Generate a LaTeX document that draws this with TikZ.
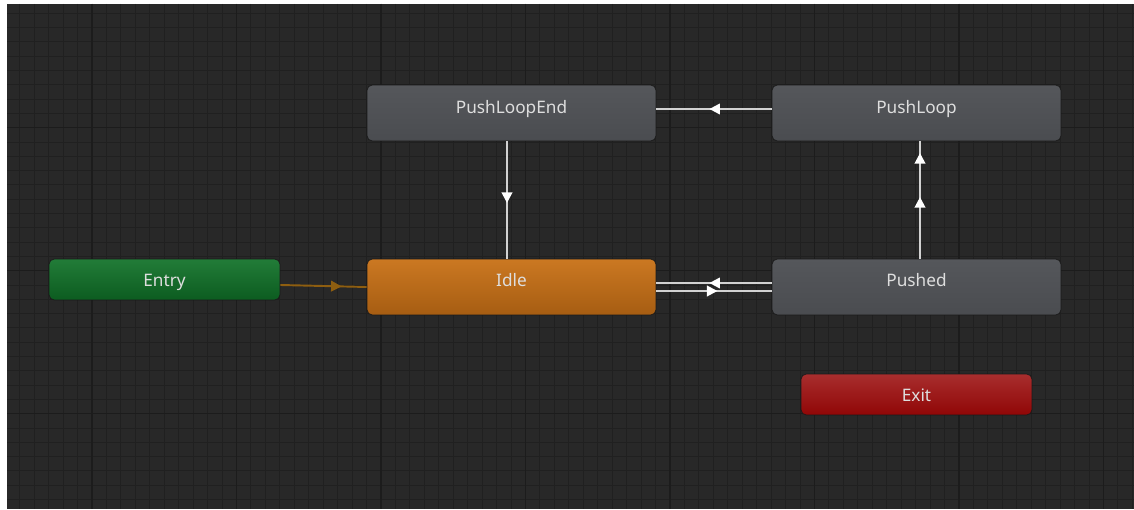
\documentclass[tikz,border=0pt]{standalone}
\usepackage{fontspec}
\setmainfont{Noto Sans}
\usetikzlibrary{arrows.meta,decorations.markings}
\definecolor{bgc}{HTML}{282828}
\definecolor{minorc}{HTML}{202020}
\definecolor{majorc}{HTML}{1C1C1C}
\definecolor{borderc}{HTML}{1A1A1A}
\definecolor{graytop}{HTML}{55575B}
\definecolor{graybot}{HTML}{4A4C50}
\definecolor{orangetop}{HTML}{CB7822}
\definecolor{orangebot}{HTML}{A65D12}
\definecolor{greentop}{HTML}{227C38}
\definecolor{greenbot}{HTML}{0C5C20}
\definecolor{redtop}{HTML}{A82E2E}
\definecolor{redbot}{HTML}{900606}
\definecolor{txtc}{HTML}{DEDEDE}
\definecolor{linec}{HTML}{D2D2D2}
\definecolor{entryline}{HTML}{8E5E10}
\begin{document}
\begin{tikzpicture}[x=0.02cm,y=-0.02cm,
  minorline/.style={draw=minorc,line width=0.55pt},
  majorline/.style={draw=majorc,line width=0.75pt},
  statebox/.style={rectangle,rounded corners=3pt,draw=borderc,line width=0.4pt,inner sep=0pt,minimum width=5.78cm,minimum height=1.12cm},
  smallbox/.style={rectangle,rounded corners=3pt,draw=borderc,line width=0.4pt,inner sep=0pt,minimum width=4.62cm,minimum height=0.82cm},
  graystate/.style={statebox,top color=graytop,bottom color=graybot},
  lbl/.style={text=txtc,font=\fontsize{9.8}{11}\selectfont,inner sep=0pt,anchor=base},
  trans/.style={draw=linec,line width=1.2pt},
  tipmark/.style={postaction={decorate},decoration={markings,
     mark=at position #1 with {\arrow{Triangle[length=6pt,width=6pt,color=white]}}}},
]
\useasboundingbox (0,0) rectangle (1134,510);
\fill[white] (0,0) rectangle (1134,510);
\fill[bgc] (7,4) rectangle (1134,509);
\begin{scope}
  \clip (7,4) rectangle (1134,509);
  \foreach \i in {-6,...,72} \draw[minorline] ({92+\i*14.45},4) -- ({92+\i*14.45},509);
  \foreach \i in {0,...,35} \draw[minorline] (7,{13.3+\i*14.3}) -- (1134,{13.3+\i*14.3});
  \foreach \i in {0,...,7} \draw[majorline] ({92+\i*144.5},4) -- ({92+\i*144.5},509);
  \foreach \i in {0,...,2} \draw[majorline] (7,{127.7+\i*143}) -- (1134,{127.7+\i*143});
\end{scope}

% states
\node[graystate] (plend) at (511.5,113) {};
\node[graystate] (ploop) at (916.5,113) {};
\node[statebox,top color=orangetop,bottom color=orangebot] (idle) at (511.5,287) {};
\node[graystate] (pushed) at (916.5,287) {};
\node[smallbox,top color=greentop,bottom color=greenbot] (entry) at (164.5,279.5) {};
\node[smallbox,top color=redtop,bottom color=redbot] (exit) at (916.5,394.5) {};

\node[lbl] (plend-t) at (plend.center |- 0,113.5) {PushLoopEnd};
\node[lbl] (ploop-t) at (ploop.center |- 0,113.5) {PushLoop};
\node[lbl] (idle-t) at (idle.center |- 0,286.5) {Idle};
\node[lbl] (pushed-t) at (pushed.center |- 0,286.5) {Pushed};
\node[lbl] (entry-t) at (entry.center |- 0,286.5) {Entry};
\node[lbl] (exit-t) at (exit.center |- 0,401.5) {Exit};

% transitions
\draw[trans,tipmark=0.54] (ploop.west |- 0,109) -- (plend.east |- 0,109);
\draw[trans,tipmark=0.525] (plend.south -| 507,0) -- (idle.north -| 507,0);
\draw[trans,postaction={decorate},decoration={markings,
   mark=at position 0.525 with {\arrow{Triangle[length=6pt,width=6pt,color=white]}},
   mark=at position 0.9 with {\arrow{Triangle[length=6pt,width=6pt,color=white]}}}]
   (pushed.north -| 920,0) -- (ploop.south -| 920,0);
\draw[trans,tipmark=0.54] (pushed.west |- 0,283) -- (idle.east |- 0,283);
\draw[trans,tipmark=0.53] (idle.east |- 0,291) -- (pushed.west |- 0,291);
\draw[draw=entryline,line width=1.1pt,postaction={decorate},decoration={markings,
   mark=at position 0.71 with {\arrow{Triangle[length=6pt,width=6pt,color=entryline]}}}]
   (entry.east |- 0,285) -- (idle.west |- 0,287);
\end{tikzpicture}
\end{document}
